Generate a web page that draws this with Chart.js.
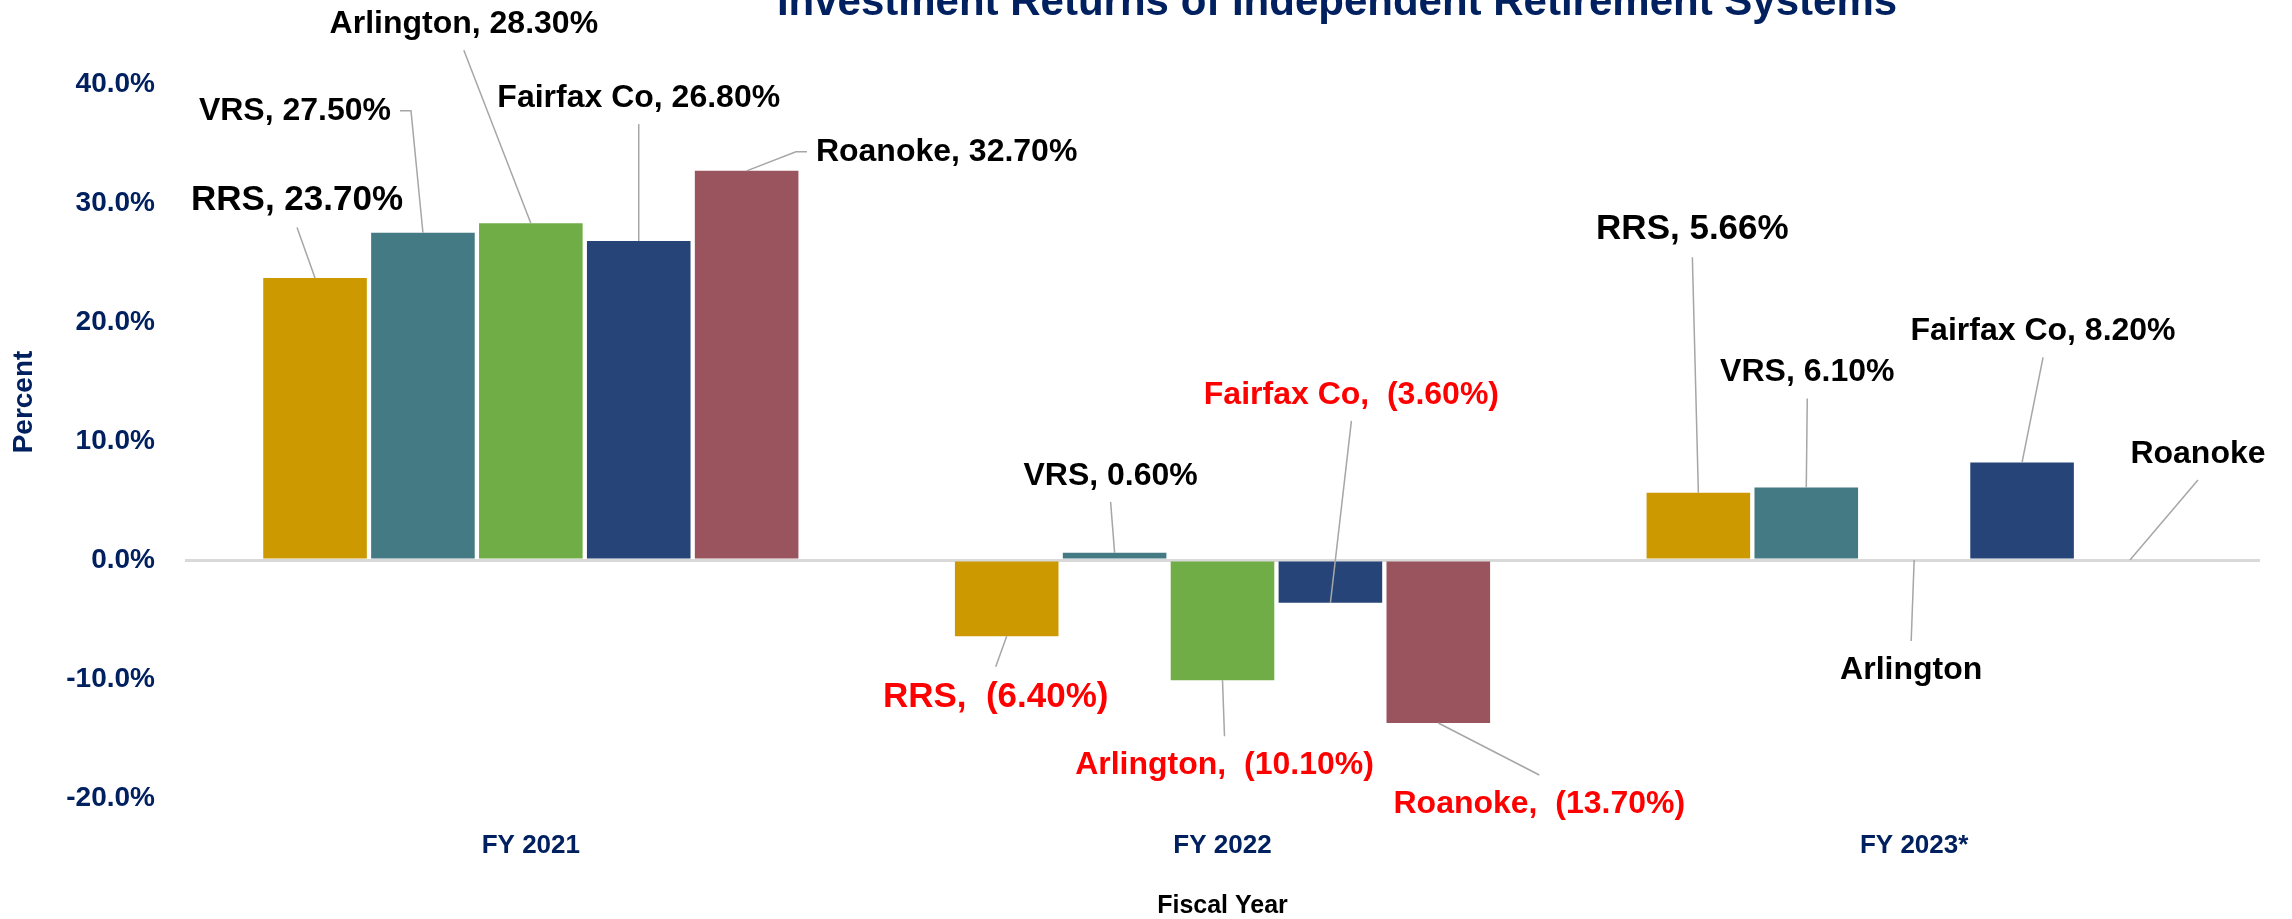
<!DOCTYPE html>
<html>
<head>
<meta charset="utf-8">
<script src="https://cdn.jsdelivr.net/npm/chart.js@4.4.1/dist/chart.umd.min.js"></script>
<style>
  html, body { margin: 0; padding: 0; background: #fff; }
</style>
</head>
<body>
<canvas id="returns" width="2292" height="919"></canvas>
<script>
const categories = ['FY 2021', 'FY 2022', 'FY 2023*'];
const systems = ['RRS', 'VRS', 'Arlington', 'Fairfax Co', 'Roanoke'];
const rrs = [23.7, -6.4, 5.66];
const vrs = [27.5, 0.6, 6.1];
const arlington = [28.3, -10.1, null];
const fairfax = [26.8, -3.6, 8.2];
const roanoke = [32.7, -13.7, null];
const yMin = -20, yMax = 40, yStep = 10;

const seriesValues = [rrs, vrs, arlington, fairfax, roanoke];
const colors = ['#CC9900', '#437A84', '#70AD47', '#264478', '#9A545E'];

// label centre relative to the end of its bar, in px (Excel placed these by hand)
const labelOffsets = [
  [[-18, -78], [-11, 61], [-6, -263]],
  [[-128, -122], [-4, -77], [1, -115]],
  [[-67, -199], [2, 85], [-3, 110]],
  [[0, -143], [21, -208], [21, -131]],
  [[200, -19], [101, 81], [68, -106]]
];
const labelSizes = [35, 32, 32, 32, 32];

const fontFamily = "'Liberation Sans', Arial, sans-serif";
const navy = '#002060';

function labelText(name, v) {
  if (v == null) return name;
  if (v < 0) return name + ',  (' + Math.abs(v).toFixed(2) + '%)';
  return name + ', ' + v.toFixed(2) + '%';
}

const dataLabels = {
  id: 'dataLabels',
  afterDatasetsDraw(chart) {
    const ctx = chart.ctx;
    const yZero = chart.scales.y.getPixelForValue(0);
    ctx.save();
    chart.data.datasets.forEach((ds, i) => {
      const meta = chart.getDatasetMeta(i);
      ds.data.forEach((v, j) => {
        const el = meta.data[j];
        const ax = el.x;
        const ay = v == null ? yZero : el.y;
        const cx = ax + labelOffsets[i][j][0];
        const cy = ay + labelOffsets[i][j][1];
        const size = labelSizes[i];
        const text = labelText(ds.label, v);
        ctx.font = 'bold ' + size + 'px ' + fontFamily;
        const w = ctx.measureText(text).width;
        const left = cx - w / 2, right = cx + w / 2;
        const top = cy - size / 2, bottom = cy + size / 2;

        // leader line
        ctx.strokeStyle = '#A6A6A6';
        ctx.lineWidth = 1.5;
        ctx.beginPath();
        if (ax >= left - 10 && ax <= right + 10) {
          if (ay > cy) ctx.moveTo(cx, bottom + 10);
          else ctx.moveTo(cx, top - 13);
        } else if (ax < left) {
          ctx.moveTo(left - 9, cy);
          ctx.lineTo(left - 20, cy);
        } else {
          ctx.moveTo(right + 9, cy);
          ctx.lineTo(right + 20, cy);
        }
        ctx.lineTo(ax, ay);
        ctx.stroke();

        ctx.fillStyle = v != null && v < 0 ? '#FF0000' : '#000000';
        ctx.textAlign = 'center';
        ctx.textBaseline = 'middle';
        ctx.fillText(text, cx, cy);
      });
    });
    ctx.restore();
  }
};

const titles = {
  id: 'titles',
  afterDraw(chart) {
    const ctx = chart.ctx;
    ctx.save();
    ctx.fillStyle = navy;
    ctx.textAlign = 'center';
    ctx.textBaseline = 'alphabetic';
    ctx.font = 'bold 42px ' + fontFamily;
    ctx.fillText('Investment Returns of Independent Retirement Systems', 1337, 15);
    ctx.translate(24, 402);
    ctx.rotate(-Math.PI / 2);
    ctx.textBaseline = 'middle';
    ctx.font = 'bold 28px ' + fontFamily;
    ctx.fillText('Percent', 0, 0);
    ctx.restore();
  }
};

new Chart(document.getElementById('returns'), {
  type: 'bar',
  data: {
    labels: categories,
    datasets: systems.map((name, i) => ({
      label: name,
      data: seriesValues[i],
      backgroundColor: colors[i],
      borderWidth: 0,
      barPercentage: 0.96,
      categoryPercentage: 0.78
    }))
  },
  options: {
    responsive: false,
    animation: false,
    layout: { padding: { top: 84, right: 32, left: 0, bottom: 0 } },
    plugins: {
      legend: { display: false },
      tooltip: { enabled: false }
    },
    scales: {
      x: {
        grid: { display: false },
        border: { display: false },
        ticks: {
          color: navy,
          padding: 24,
          font: { family: fontFamily, size: 26, weight: 'bold' }
        },
        title: {
          display: true,
          text: 'Fiscal Year',
          color: '#000000',
          font: { family: fontFamily, size: 25, weight: 'bold' },
          padding: { top: 0, bottom: -2 }
        },
        afterFit(s) { s.height = 121; }
      },
      y: {
        min: yMin,
        max: yMax,
        border: { display: false },
        grid: {
          drawTicks: false,
          lineWidth: 3,
          color: c => (c.tick && c.tick.value === 0 ? '#D9D9D9' : 'rgba(0,0,0,0)')
        },
        ticks: {
          stepSize: yStep,
          padding: 30,
          color: navy,
          font: { family: fontFamily, size: 28, weight: 'bold' },
          callback: v => v.toFixed(1) + '%'
        },
        afterFit(s) { s.width = 185; }
      }
    }
  },
  plugins: [dataLabels, titles]
});
</script>
</body>
</html>
